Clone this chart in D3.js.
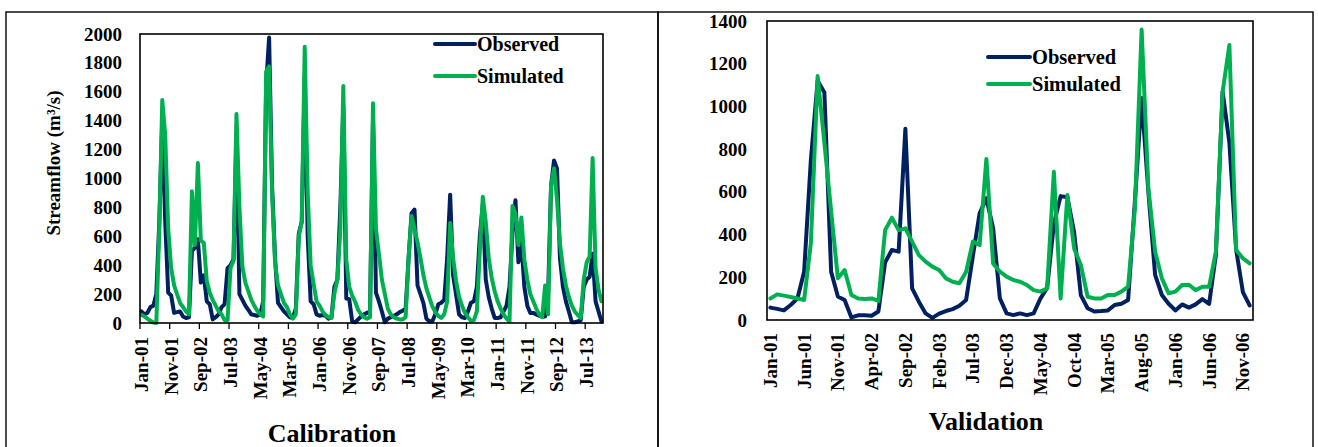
<!DOCTYPE html>
<html>
<head>
<meta charset="utf-8">
<script src="https://cdn.jsdelivr.net/npm/d3@7"></script>
<style>
  body { margin: 0; background: #fff; }
  text { font-family: "Liberation Serif", "Times New Roman", serif; font-weight: bold; fill: #000; }
</style>
</head>
<body>
<svg id="chart" width="1318" height="447"></svg>
<script>
// monthly streamflow (m3/s), one row per year
const calObserved = [
  80, 60, 70, 110, 120, 200, 700, 1400, 700, 210, 190, 70,
  75, 80, 45, 35, 40, 500, 520, 580, 280, 330, 150, 130,
  25, 40, 60, 110, 130, 380, 400, 440, 1300, 200, 160, 120,
  90, 60, 55, 50, 60, 150, 1650, 1975, 950, 450, 140, 110,
  80, 60, 40, 35, 100, 620, 700, 1700, 600, 150, 130, 60,
  50, 55, 50, 30, 40, 250, 300, 800, 1500, 170, 165, 10,
  5, 25, 45, 60, 70, 80, 1400, 210, 150, 80, 5, 30,
  40, 50, 60, 75, 85, 100, 450, 760, 785, 260, 200, 138,
  30, 12, 12, 60, 130, 140, 160, 450, 888, 330, 196, 60,
  40, 35, 80, 140, 150, 250, 600, 820, 300, 180, 100, 35,
  35, 40, 80, 120, 250, 620, 850, 420, 560, 250, 120, 70,
  70, 60, 50, 45, 45, 200, 950, 1125, 1070, 450, 250, 150,
  80, 5, 5, 10, 20, 250, 300, 320, 480, 150, 80, 10
];
const calSimulated = [
  55, 45, 30, 15, 3, 0, 650, 1543, 1300, 650, 380, 260,
  198, 140, 110, 80, 60, 911, 540, 1107, 570, 555, 290, 210,
  160, 120, 80, 60, 20, 20, 380, 430, 1446, 800, 390, 280,
  220, 160, 120, 85, 60, 45, 1741, 1776, 900, 420, 260, 200,
  140, 110, 60, 30, 60, 600, 700, 1912, 900, 400, 270, 150,
  120, 80, 55, 40, 35, 205, 300, 650, 1640, 440, 250, 190,
  147, 90, 60, 40, 30, 40, 1520, 650, 480, 300, 200, 100,
  60, 40, 30, 25, 25, 40, 450, 740, 650, 560, 450, 330,
  240, 175, 115, 75, 50, 35, 60, 150, 692, 450, 290, 180,
  120, 70, 40, 15, 20, 80, 500, 874, 700, 450, 311, 220,
  150, 100, 60, 30, 10, 810, 760, 540, 730, 440, 300, 200,
  150, 100, 60, 40, 260, 60, 950, 1070, 850, 550, 380, 260,
  180, 120, 80, 55, 35, 300, 420, 460, 1142, 380, 230, 150
];
const calTicks = ["Jan-01", "Nov-01", "Sep-02", "Jul-03", "May-04", "Mar-05", "Jan-06", "Nov-06",
  "Sep-07", "Jul-08", "May-09", "Mar-10", "Jan-11", "Nov-11", "Sep-12", "Jul-13"];
const calYTicks = [0, 200, 400, 600, 800, 1000, 1200, 1400, 1600, 1800, 2000];

const valObserved = [
  58, 52, 45, 70, 100, 226, 750, 1120, 1065, 226, 110, 94,
  12, 22, 22, 20, 40, 270, 328, 320, 895, 148, 86, 31,
  10, 30, 42, 51, 67, 94, 300, 500, 570, 430, 101, 31,
  23, 31, 23, 31, 100, 150, 450, 580, 575, 410, 115, 55,
  40, 42, 45, 70, 76, 94, 554, 1040, 600, 211, 117, 76,
  45, 73, 58, 73, 98, 76, 304, 1069, 830, 330, 131, 68
];
const valSimulated = [
  101, 120, 114, 108, 101, 94, 360, 1142, 830, 510, 195, 234,
  117, 101, 98, 101, 89, 421, 479, 421, 429, 367, 304, 273,
  250, 234, 195, 179, 172, 226, 367, 351, 754, 265, 226, 203,
  187, 179, 164, 140, 133, 148, 694, 101, 585, 335, 257, 109,
  101, 101, 117, 117, 133, 156, 520, 1360, 616, 320, 195, 125,
  133, 164, 165, 140, 156, 156, 320, 1069, 1288, 328, 289, 265
];
const valTicks = ["Jan-01", "Jun-01", "Nov-01", "Apr-02", "Sep-02", "Feb-03", "Jul-03", "Dec-03",
  "May-04", "Oct-04", "Mar-05", "Aug-05", "Jan-06", "Jun-06", "Nov-06"];
const valYTicks = [0, 200, 400, 600, 800, 1000, 1200, 1400];

const seriesNames = ["Observed", "Simulated"];
const colors = ["#002060", "#00b050"];

const fmt = d3.timeFormat("%b-%y");
function months(start, n) {
  return d3.timeMonth.range(start, d3.timeMonth.offset(start, n)).map(fmt);
}

const svg = d3.select("#chart");

// outer table frame
svg.append("rect").attr("x", 6).attr("y", 12).attr("width", 652).attr("height", 480)
  .attr("fill", "none").attr("stroke", "#000").attr("stroke-width", 1.4);
svg.append("rect").attr("x", 658).attr("y", 12).attr("width", 655).attr("height", 480)
  .attr("fill", "none").attr("stroke", "#000").attr("stroke-width", 1.4);

function drawPanel(o) {
  var cats = months(new Date(2001, 0, 1), o.obs.length);

  var x = d3.scaleBand().domain(cats).range([o.left, o.right]);
  var cx = d => x(d) + x.bandwidth() / 2;
  var y = d3.scaleLinear().domain([0, o.yMax]).range([o.bottom, o.top]);

  var g = svg.append("g");

  // y axis labels
  var ya = g.append("g")
    .attr("transform", "translate(" + o.left + ",0)")
    .call(d3.axisLeft(y).tickValues(o.yTicks).tickFormat(d3.format("d")).tickSize(0).tickPadding(o.yPad));
  ya.select(".domain").remove();
  ya.attr("font-size", 19);

  // x axis labels, rotated
  var xa = g.append("g")
    .attr("transform", "translate(0," + o.bottom + ")")
    .call(d3.axisBottom(x).tickValues(o.xTicks).tickSize(0));
  xa.select(".domain").remove();
  xa.attr("font-size", 19);
  xa.selectAll("text")
    .attr("transform", "rotate(-90)")
    .attr("x", -o.xPad)
    .attr("y", 0)
    .attr("dy", "0.34em")
    .style("text-anchor", "end");

  if (o.tickMarks) {
    g.selectAll(".tm")
      .data(o.xTicks)
      .enter()
      .append("line")
      .attr("x1", d => x(d)).attr("x2", d => x(d))
      .attr("y1", o.bottom).attr("y2", o.bottom + 6)
      .attr("stroke", "#000").attr("stroke-width", 1.3);
  }

  var line = d3.line()
    .x((d, i) => cx(cats[i]))
    .y(d => y(d));

  [o.obs, o.sim].forEach(function(s, k) {
    g.append("path")
      .datum(s)
      .attr("d", line)
      .attr("fill", "none")
      .attr("stroke", colors[k])
      .attr("stroke-width", 4)
      .attr("stroke-linejoin", "round")
      .attr("stroke-linecap", "round");
  });

  // plot area border
  g.append("rect")
    .attr("x", o.left).attr("y", o.top)
    .attr("width", o.right - o.left).attr("height", o.bottom - o.top)
    .attr("fill", "none").attr("stroke", "#000").attr("stroke-width", 1.6);

  // legend
  seriesNames.forEach(function(name, k) {
    var ly = o.legY + k * o.legGap;
    g.append("line")
      .attr("x1", o.legX).attr("x2", o.legX + o.legLen)
      .attr("y1", ly).attr("y2", ly)
      .attr("stroke", colors[k]).attr("stroke-width", 4).attr("stroke-linecap", "round");
    g.append("text")
      .attr("x", o.legX + o.legLen + 2).attr("y", ly).attr("dy", "0.33em")
      .attr("font-size", o.legFont)
      .text(name);
  });

  if (o.yTitle) {
    g.append("text")
      .attr("transform", "translate(" + o.yTitleX + "," + o.yTitleY + ") rotate(-90)")
      .attr("text-anchor", "middle")
      .attr("font-size", 19)
      .text(o.yTitle);
  }

  g.append("text")
    .attr("x", o.titleX).attr("y", o.titleY)
    .attr("text-anchor", "middle")
    .attr("font-size", 26)
    .text(o.title);
}

drawPanel({
  left: 140, right: 603, top: 34, bottom: 323,
  obs: calObserved, sim: calSimulated,
  yMax: 2000, yTicks: calYTicks, yPad: 18,
  xTicks: calTicks, xPad: 14, tickMarks: true,
  legX: 435, legY: 44, legGap: 32, legLen: 40, legFont: 20,
  yTitle: "Streamflow (m³/s)", yTitleX: 60, yTitleY: 163,
  title: "Calibration", titleX: 332, titleY: 442
});

drawPanel({
  left: 767, right: 1253, top: 21, bottom: 320,
  obs: valObserved, sim: valSimulated,
  yMax: 1400, yTicks: valYTicks, yPad: 20,
  xTicks: valTicks, xPad: 13, tickMarks: false,
  legX: 988, legY: 57, legGap: 27, legLen: 42, legFont: 20.5,
  title: "Validation", titleX: 986, titleY: 430
});
</script>
</body>
</html>
